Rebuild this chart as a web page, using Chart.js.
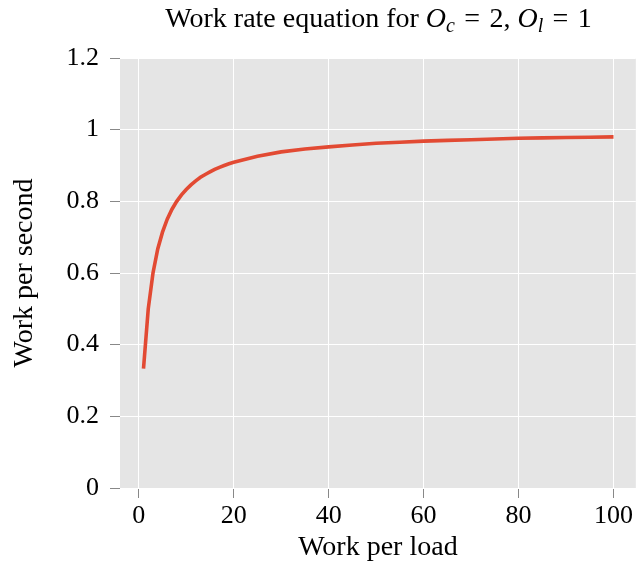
<!DOCTYPE html>
<html>
<head>
<meta charset="utf-8">
<script src="https://cdn.jsdelivr.net/npm/chart.js@4/dist/chart.umd.min.js"></script>
<style>
  html, body { margin: 0; padding: 0; background: #ffffff; }
  #c { display: block; }
</style>
</head>
<body>
<canvas id="c" width="636" height="563"></canvas>
<script>
// Data
const workPerLoad = [1, 2, 3, 4, 5, 6, 7, 8, 9, 10, 11, 12, 13, 14, 15, 16, 17, 18, 19, 20,
  25, 30, 35, 40, 45, 50, 55, 60, 65, 70, 75, 80, 85, 90, 95, 100];
const workPerSecond = [0.333, 0.5, 0.6, 0.667, 0.714, 0.75, 0.778, 0.8, 0.818, 0.833, 0.846, 0.857, 0.867, 0.875, 0.882, 0.889, 0.895, 0.9, 0.905, 0.909,
  0.926, 0.938, 0.946, 0.952, 0.957, 0.962, 0.965, 0.968, 0.970, 0.972, 0.974, 0.976, 0.977, 0.978, 0.979, 0.980];
const xTickValues = [0, 20, 40, 60, 80, 100];
const yTickValues = [0, 0.2, 0.4, 0.6, 0.8, 1, 1.2];
const yTickLabels = ['0', '0.2', '0.4', '0.6', '0.8', '1', '1.2'];
const xLabel = 'Work per load';
const yLabel = 'Work per second';
const titleParts = [
  { t: 'Work rate equation for ', italic: false, sub: false },
  { t: 'O', italic: true, sub: false },
  { t: 'c', italic: true, sub: true },
  { t: '\u2004=\u20042, ', italic: false, sub: false },
  { t: 'O', italic: true, sub: false },
  { t: 'l', italic: true, sub: true },
  { t: '\u2004=\u20041', italic: false, sub: false }
];

const FONT = '"Liberation Serif", "Times New Roman", serif';

const bgPlugin = {
  id: 'bg',
  beforeDraw(chart) {
    const { ctx, chartArea: a } = chart;
    ctx.save();
    ctx.fillStyle = '#e5e5e5';
    ctx.fillRect(a.left, a.top, a.right - a.left, a.bottom - a.top);
    ctx.restore();
  }
};

const titlePlugin = {
  id: 'mathTitle',
  afterDraw(chart) {
    const { ctx, chartArea: a } = chart;
    const size = 28, subSize = 20;
    ctx.save();
    ctx.fillStyle = '#000';
    ctx.textBaseline = 'alphabetic';
    ctx.textAlign = 'left';
    const fontFor = p => (p.italic ? 'italic ' : '') + (p.sub ? subSize : size) + 'px ' + FONT;
    let total = 0;
    titleParts.forEach(p => { ctx.font = fontFor(p); total += ctx.measureText(p.t).width; });
    const cx = (a.left + 637) / 2;
    let x = cx - total / 2;
    const base = 27;
    titleParts.forEach(p => {
      ctx.font = fontFor(p);
      ctx.fillText(p.t, x, p.sub ? base + 5 : base);
      x += ctx.measureText(p.t).width;
    });
    ctx.restore();
  }
};

const points = workPerLoad.map((x, i) => ({ x: x, y: workPerSecond[i] }));

new Chart(document.getElementById('c'), {
  type: 'line',
  data: {
    datasets: [{
      data: points,
      borderColor: '#E24A33',
      borderWidth: 3.6,
      pointRadius: 0,
      tension: 0,
      fill: false
    }]
  },
  options: {
    responsive: false,
    animation: false,
    devicePixelRatio: 1,
    layout: { padding: { top: 58, left: 0, right: 0, bottom: 0 } },
    plugins: {
      legend: { display: false },
      title: { display: false },
      tooltip: { enabled: false }
    },
    scales: {
      x: {
        type: 'linear',
        min: -3.95,
        max: 104.7,
        afterBuildTicks(scale) { scale.ticks = xTickValues.map(v => ({ value: v })); },
        afterFit(scale) { scale.height = 75; },
        ticks: {
          color: '#000',
          font: { family: FONT, size: 26 },
          padding: 3,
          maxRotation: 0,
          autoSkip: false,
          callback: v => String(v)
        },
        grid: { color: '#ffffff', lineWidth: 1, tickColor: '#888888', tickLength: 10, drawTicks: true },
        border: { display: false },
        title: {
          display: true,
          text: xLabel,
          color: '#000',
          font: { family: FONT, size: 28, lineHeight: 1 },
          padding: { top: 0, bottom: 1 }
        }
      },
      y: {
        type: 'linear',
        min: 0,
        max: 1.2,
        afterBuildTicks(scale) { scale.ticks = yTickValues.map(v => ({ value: v })); },
        afterFit(scale) { scale.width = 120; },
        ticks: {
          color: '#000',
          font: { family: FONT, size: 26 },
          padding: 11,
          autoSkip: false,
          callback: (v) => { const i = yTickValues.indexOf(v); return i >= 0 ? yTickLabels[i] : ''; }
        },
        grid: { color: '#ffffff', lineWidth: 1, tickColor: '#888888', tickLength: 10, drawTicks: true },
        border: { display: false },
        title: {
          display: true,
          text: yLabel,
          color: '#000',
          font: { family: FONT, size: 28, lineHeight: 1 },
          padding: { top: 11, bottom: 0 }
        }
      }
    }
  },
  plugins: [bgPlugin, titlePlugin]
});
</script>
</body>
</html>
